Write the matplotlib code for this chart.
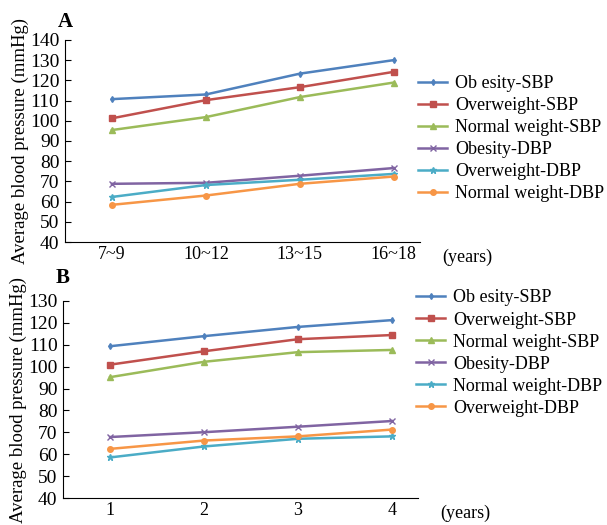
import matplotlib.pyplot as plt

plt.rcParams['font.family'] = ['Liberation Serif', 'DejaVu Serif']

# age groups (panel A) and follow-up years (panel B)
age_groups = ['7~9', '10~12', '13~15', '16~18']
years = ['1', '2', '3', '4']

# panel A: blood pressure by age group
a_obesity_sbp = [110.7, 113.0, 123.3, 130.0]
a_overweight_sbp = [101.2, 110.2, 116.6, 124.2]
a_normal_sbp = [95.4, 101.8, 111.7, 118.9]
a_obesity_dbp = [68.8, 69.3, 72.8, 76.6]
a_overweight_dbp = [62.3, 68.2, 70.8, 73.7]
a_normal_dbp = [58.4, 63.0, 68.8, 72.4]

# panel B: blood pressure by follow-up year
b_obesity_sbp = [109.3, 113.9, 118.1, 121.2]
b_overweight_sbp = [100.9, 107.0, 112.5, 114.4]
b_normal_sbp = [95.2, 102.2, 106.6, 107.6]
b_obesity_dbp = [67.9, 70.1, 72.6, 75.2]
b_normal_dbp = [58.6, 63.6, 67.1, 68.2]
b_overweight_dbp = [62.5, 66.3, 68.2, 71.3]

colors = ['#4F81BD', '#C0504D', '#9BBB59', '#8064A2', '#4BACC6', '#F79646']
markers = ['d', 's', '^', 'x', '*', 'o']
msizes = [3, 4.5, 4, 4, 4.5, 4]

fig = plt.figure(figsize=(6.07, 5.25), dpi=100)


def draw_panel(ax, series, labels, ticklabels, ylim, letter, leg_y, letter_y):
    x = range(1, len(ticklabels) + 1)
    for vals, lab, c, m, ms in zip(series, labels, colors, markers, msizes):
        ax.plot(x, vals, color=c, marker=m, markersize=ms, linewidth=1.8,
                label=lab, markeredgewidth=1)
    ax.set_xlim(0.5, 4.28)
    ax.set_ylim(*ylim)
    ax.set_yticks(range(ylim[0], ylim[1] + 1, 10))
    ax.set_xticks(list(x))
    ax.set_xticklabels(ticklabels)
    ax.spines['top'].set_visible(False)
    ax.spines['right'].set_visible(False)
    ax.tick_params(axis='x', length=0, labelsize=13, pad=3)
    ax.tick_params(axis='y', direction='in', length=4, labelsize=14, pad=4)
    ax.set_ylabel('Average blood pressure (mmHg)', fontsize=13.5, labelpad=1)
    ax.annotate('(years)', xy=(1.0, 0.0), xycoords='axes fraction',
                xytext=(16, -11), textcoords='offset points', fontsize=13,
                ha='left', va='center')
    ax.text(0.0, letter_y, letter, transform=ax.transAxes, fontsize=15,
            fontweight='bold', ha='center', va='center')
    ax.legend(loc='center left', bbox_to_anchor=(0.995, leg_y), frameon=False,
              fontsize=13, handlelength=1.6, handletextpad=0.45,
              labelspacing=0.28, borderaxespad=0.0, borderpad=0.0)


ax_a = fig.add_axes([0.107, 0.539, 0.585, 0.385])
draw_panel(ax_a,
           [a_obesity_sbp, a_overweight_sbp, a_normal_sbp,
            a_obesity_dbp, a_overweight_dbp, a_normal_dbp],
           ['Ob esity-SBP', 'Overweight-SBP', 'Normal weight-SBP',
            'Obesity-DBP', 'Overweight-DBP', 'Normal weight-DBP'],
           age_groups, (40, 140), 'A', 0.512, 1.09)

ax_b = fig.add_axes([0.104, 0.051, 0.585, 0.376])
draw_panel(ax_b,
           [b_obesity_sbp, b_overweight_sbp, b_normal_sbp,
            b_obesity_dbp, b_normal_dbp, b_overweight_dbp],
           ['Ob esity-SBP', 'Overweight-SBP', 'Normal weight-SBP',
            'Obesity-DBP', 'Normal weight-DBP', 'Overweight-DBP'],
           years, (40, 130), 'B', 0.735, 1.115)

fig.savefig('out.png', dpi=100)
